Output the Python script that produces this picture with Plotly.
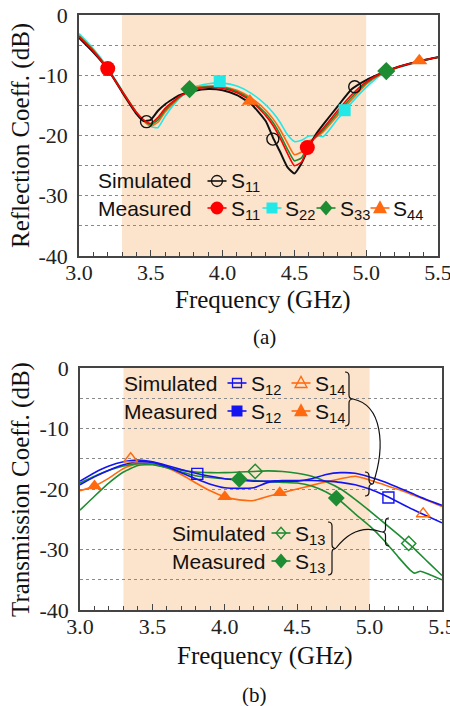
import plotly.graph_objects as go

# ---------------- (a) Reflection coefficients ----------------
f_top = [3.0, 3.1, 3.2, 3.3, 3.4, 3.45, 3.5, 3.55, 3.6, 3.7, 3.8, 3.9, 4.0, 4.1, 4.2, 4.3,
         4.35, 4.4, 4.45, 4.5, 4.55, 4.6, 4.65, 4.7, 4.8, 4.9, 5.0, 5.1, 5.2, 5.3, 5.4, 5.5]
sim_s11 = [-3.8, -6.2, -9.0, -12.8, -16.4, -17.6, -17.4, -15.9, -14.8, -13.3, -12.6, -12.3, -12.5, -13.3,
           -14.8, -17.6, -20.3, -22.7, -25.2, -26.3, -24.6, -22.0, -19.8, -18.2, -15.2, -12.3, -10.8,
           -9.7, -8.8, -8.1, -7.5, -7.0]
meas_s11 = [-3.6, -6.0, -9.0, -12.7, -16.2, -17.4, -18.0, -17.0, -15.5, -13.5, -12.4, -12.0, -12.2, -12.9,
            -14.3, -16.7, -18.3, -20.4, -22.9, -25.0, -24.4, -21.8, -20.1, -18.8, -15.9, -13.2, -11.1,
            -9.7, -8.8, -8.1, -7.5, -7.0]
meas_s22 = [-3.1, -5.6, -8.7, -12.5, -16.1, -17.5, -18.5, -18.7, -16.8, -13.8, -12.0, -11.4, -11.3, -11.8,
            -13.0, -14.9, -16.2, -17.8, -19.8, -21.0, -20.8, -20.1, -20.0, -20.2, -17.3, -14.5, -12.0,
            -10.0, -8.9, -8.2, -7.6, -7.0]
meas_s33 = [-3.5, -5.9, -8.9, -12.6, -16.2, -17.5, -18.2, -17.4, -15.8, -13.6, -12.2, -11.9, -12.0, -12.7,
            -14.1, -16.3, -17.8, -19.8, -22.2, -24.2, -23.7, -21.5, -20.2, -19.1, -16.3, -13.6, -11.3,
            -9.8, -8.8, -8.1, -7.5, -7.0]
meas_s44 = [-3.4, -5.8, -8.9, -12.6, -16.2, -17.6, -18.4, -17.8, -16.1, -13.7, -12.1, -11.8, -11.9, -12.5,
            -13.8, -15.8, -17.2, -19.0, -21.2, -23.2, -22.7, -21.0, -20.3, -19.4, -16.7, -14.0, -11.5,
            -9.9, -8.9, -8.1, -7.5, -7.0]

mk_sim_s11_f, mk_sim_s11 = [3.47, 4.35, 4.92], [-17.7, -20.6, -11.9]
mk_meas_s11_f, mk_meas_s11 = [3.2, 4.59], [-8.9, -22.0]
mk_meas_s22_f, mk_meas_s22 = [3.98, 4.85], [-11.0, -15.8]
mk_meas_s33_f, mk_meas_s33 = [3.77, 5.14], [-12.3, -9.3]
mk_meas_s44_f, mk_meas_s44 = [4.19, 5.37], [-14.3, -7.6]

# ---------------- (b) Transmission coefficients ----------------
f_bot = [3.0, 3.1, 3.2, 3.3, 3.4, 3.5, 3.6, 3.7, 3.8, 3.9, 4.0, 4.1, 4.2, 4.3, 4.4, 4.5, 4.6,
         4.7, 4.8, 4.9, 5.0, 5.1, 5.2, 5.3, 5.4, 5.5]
sim_s12 = [-18.7, -17.3, -16.2, -15.5, -15.2, -15.5, -16.1, -16.8, -17.4, -17.9, -18.3, -18.5, -18.7,
           -18.7, -18.6, -18.6, -18.6, -18.7, -18.9, -19.3, -20.0, -21.0, -22.2, -23.4, -24.5, -25.6]
meas_s12 = [-19.3, -18.0, -16.9, -16.0, -15.5, -15.6, -16.3, -17.3, -18.3, -19.2, -19.8, -19.9, -19.8,
            -18.9, -18.7, -18.7, -18.3, -17.6, -17.3, -17.4, -18.0, -18.8, -19.8, -20.8, -21.8, -22.7]
meas_s14 = [-20.3, -19.5, -18.2, -16.6, -15.8, -15.8, -16.5, -17.6, -19.0, -20.3, -21.3, -21.8, -21.9,
            -21.2, -20.6, -20.0, -19.4, -18.8, -18.3, -17.9, -18.5, -19.3, -20.1, -21.0, -21.9, -22.9]
sim_s13 = [-19.0, -17.9, -16.9, -16.2, -15.8, -15.9, -16.4, -16.9, -17.2, -17.3, -17.3, -17.2, -17.1,
           -17.0, -17.1, -17.4, -17.9, -18.8, -20.0, -21.7, -23.6, -25.6, -27.6, -29.7, -32.0, -34.3]
f_m13 = [3.0, 3.1, 3.2, 3.3, 3.4, 3.5, 3.6, 3.7, 3.8, 3.9, 4.0, 4.1, 4.2, 4.3, 4.4, 4.5, 4.6, 4.7,
         4.8, 4.9, 5.0, 5.1, 5.2, 5.28, 5.31, 5.35, 5.42, 5.5]
meas_s13 = [-23.5, -21.2, -19.0, -17.2, -16.1, -16.0, -16.5, -17.2, -17.8, -18.1, -18.3, -18.4, -18.6,
            -18.8, -18.9, -19.0, -19.5, -20.5, -22.0, -24.1, -26.1, -28.5, -31.3, -33.4, -33.9, -33.6,
            -34.2, -35.0]

mk_sim_s12_f, mk_sim_s12 = [3.81, 5.13], [-17.5, -21.4]
mk_sim_s14_f, mk_sim_s14 = [3.35, 5.37], [-15.0, -24.1]
mk_meas_s14_f, mk_meas_s14 = [3.1, 4.0, 4.38], [-19.5, -21.3, -20.6]
mk_sim_s13_f, mk_sim_s13 = [4.21, 5.27], [-17.1, -29.0]
mk_meas_s13_f, mk_meas_s13 = [4.1, 4.77], [-18.4, -21.5]

x_tick_vals = [3.0, 3.5, 4.0, 4.5, 5.0, 5.5]
x_tick_text = ["3.0", "3.5", "4.0", "4.5", "5.0", "5.5"]
y_tick_vals = [0, -10, -20, -30, -40]
y_tick_text = ["0", "-10", "-20", "-30", "-40"]
band = [3.3, 5.0]

# ---------------- styling ----------------
W, H = 450, 706
BLACK, RED, CYAN, GREEN, ORANGE, BLUE = "#111111", "#FF0000", "#22E8E8", "#1E8C32", "#FF6A10", "#1414F0"
SANS = "Liberation Sans"
SERIF = "Liberation Serif"


def P(px, py):
    return px / W, 1 - py / H


fig = go.Figure()


def line(x, y, color, xa, ya, width=1.6):
    fig.add_trace(go.Scatter(x=x, y=y, mode="lines",
                             line=dict(color=color, width=width, shape="spline", smoothing=0.5),
                             xaxis=xa, yaxis=ya, showlegend=False, hoverinfo="skip"))


def marks(x, y, color, symbol, size, xa, ya):
    fig.add_trace(go.Scatter(x=x, y=y, mode="markers",
                             marker=dict(symbol=symbol, size=size, color=color,
                                         line=dict(color=color, width=1.4 if symbol.endswith("open") else 0)),
                             xaxis=xa, yaxis=ya, showlegend=False, hoverinfo="skip"))


# (a)
line(f_top, meas_s22, CYAN, "x", "y")
line(f_top, meas_s44, ORANGE, "x", "y")
line(f_top, meas_s33, GREEN, "x", "y")
line(f_top, sim_s11, BLACK, "x", "y", 2.0)
line(f_top, meas_s11, RED, "x", "y")
marks(mk_sim_s11_f, mk_sim_s11, BLACK, "circle-open", 12, "x", "y")
marks(mk_meas_s11_f, mk_meas_s11, RED, "circle", 15, "x", "y")
marks(mk_meas_s22_f, mk_meas_s22, CYAN, "square", 12, "x", "y")
marks(mk_meas_s33_f, mk_meas_s33, GREEN, "diamond", 14, "x", "y")
marks(mk_meas_s44_f, mk_meas_s44, ORANGE, "triangle-up", 14, "x", "y")

# (b)
line(f_bot, meas_s14, ORANGE, "x2", "y2")
line(f_bot, sim_s13, GREEN, "x2", "y2")
line(f_m13, meas_s13, GREEN, "x2", "y2")
line(f_bot, meas_s12, BLUE, "x2", "y2")
line(f_bot, sim_s12, BLUE, "x2", "y2")
marks(mk_sim_s12_f, mk_sim_s12, BLUE, "square-open", 11, "x2", "y2")
marks(mk_sim_s14_f, mk_sim_s14, ORANGE, "triangle-up-open", 12, "x2", "y2")
marks(mk_meas_s14_f, mk_meas_s14, ORANGE, "triangle-up", 13, "x2", "y2")
marks(mk_sim_s13_f, mk_sim_s13, GREEN, "diamond-open", 11, "x2", "y2")
marks(mk_meas_s13_f, mk_meas_s13, GREEN, "diamond", 13, "x2", "y2")

axis_x = dict(range=[3.0, 5.5], tickmode="array", tickvals=x_tick_vals, ticktext=x_tick_text,
              ticks="inside", ticklen=6, tickwidth=1, tickcolor="#444",
              minor=dict(tickmode="linear", tick0=3.0, dtick=0.1, ticks="inside", ticklen=4,
                         tickcolor="#444", showgrid=False),
              showline=True, linecolor="#444", linewidth=1.5, mirror=True, showgrid=False, zeroline=False,
              tickfont=dict(family=SERIF, size=22, color="#222"), automargin=False,
              ticklabelstandoff=-4, ticklabeloverflow="allow")
axis_y = dict(range=[-40, 0], tickmode="array", tickvals=y_tick_vals, ticktext=y_tick_text, ticks="",
              showline=True, linecolor="#444", linewidth=1.5, mirror=True,
              showgrid=True, griddash="dot", gridcolor="#8a8a8a", gridwidth=1,
              minor=dict(tickmode="linear", tick0=0, dtick=5, showgrid=True, griddash="dot",
                         gridcolor="#8a8a8a", gridwidth=1, ticks=""),
              zeroline=False, tickfont=dict(family=SERIF, size=22, color="#222"), automargin=False,
              ticklabelstandoff=5, ticklabeloverflow="allow")

fig.update_layout(
    width=W, height=H, margin=dict(l=0, r=0, t=0, b=0), paper_bgcolor="white", plot_bgcolor="white",
    xaxis=dict(axis_x, domain=[79 / W, 438 / W], anchor="y"),
    yaxis=dict(axis_y, domain=[1 - 256 / H, 1 - 15 / H], anchor="x"),
    xaxis2=dict(axis_x, domain=[80 / W, 442 / W], anchor="y2"),
    yaxis2=dict(axis_y, domain=[1 - 610 / H, 1 - 368 / H], anchor="x2"),
    showlegend=False,
)

# shaded band
for xr, yr in (("x", "y domain"), ("x2", "y2 domain")):
    fig.add_shape(type="rect", xref=xr, yref=yr, x0=band[0], x1=band[1], y0=0, y1=1,
                  fillcolor="#FCE3CB", line_width=0, layer="below")


def text(t, px, py, fam=SANS, sz=21, ang=0, xanchor="left"):
    x, y = P(px, py)
    fig.add_annotation(text=t, x=x, y=y, xref="paper", yref="paper", showarrow=False, textangle=ang,
                       xanchor=xanchor, yanchor="middle", font=dict(family=fam, size=sz, color="#111"))


# axis titles and panel labels
text("Reflection Coeff. (dB)", 21, 136, SERIF, 25, -90, "center")
text("Frequency (GHz)", 263, 300, SERIF, 25, 0, "center")
text("(a)", 264, 337, SERIF, 21, 0, "center")
text("Transmission Coeff. (dB)", 21, 490, SERIF, 25, -90, "center")
text("Frequency (GHz)", 265, 656, SERIF, 25, 0, "center")
text("(b)", 254, 695, SERIF, 21, 0, "center")


# ---------------- legend keys (line + symbol) ----------------
def pstr(pts, close=True):
    s = []
    for i, (x, y) in enumerate(pts):
        X, Y = P(x, y)
        s.append(("M" if i == 0 else "L") + f"{X:.5f},{Y:.5f}")
    return " ".join(s) + (" Z" if close else "")


def key(cx, cy, color, kind, filled, r, half=9.5):
    x0, y0 = P(cx - half, cy)
    x1, _ = P(cx + half, cy)
    fig.add_shape(type="line", xref="paper", yref="paper", x0=x0, x1=x1, y0=y0, y1=y0,
                  line=dict(color=color, width=1.6))
    style = dict(fillcolor=color if filled else "rgba(0,0,0,0)",
                 line=dict(color=color, width=0 if filled else 1.3))
    if kind in ("circle", "square"):
        a0, b0 = P(cx - r, cy + r)
        a1, b1 = P(cx + r, cy - r)
        fig.add_shape(type="circle" if kind == "circle" else "rect", xref="paper", yref="paper",
                      x0=a0, x1=a1, y0=b0, y1=b1, **style)
    elif kind == "diamond":
        fig.add_shape(type="path", xref="paper", yref="paper",
                      path=pstr([(cx, cy - r * 1.15), (cx + r, cy), (cx, cy + r * 1.15), (cx - r, cy)]), **style)
    else:
        fig.add_shape(type="path", xref="paper", yref="paper",
                      path=pstr([(cx, cy - r * 1.1), (cx + r, cy + r * 0.75), (cx - r, cy + r * 0.75)]), **style)


# (a) legend
text("Simulated", 96, 180)
key(217, 181, BLACK, "circle", False, 5.5)
text("S<sub>11</sub>", 229, 182)
text("Measured", 96, 208)
key(217, 208, RED, "circle", True, 6.5)
text("S<sub>11</sub>", 229, 210)
key(272, 208, CYAN, "square", True, 5.5)
text("S<sub>22</sub>", 283, 210)
key(326, 208, GREEN, "diamond", True, 6.5)
text("S<sub>33</sub>", 338, 210)
key(380, 208, ORANGE, "triangle", True, 7)
text("S<sub>44</sub>", 391, 210)

# (b) legend, upper group
text("Simulated", 122, 383)
key(237, 383, BLUE, "square", False, 4.5)
text("S<sub>12</sub>", 249, 385)
key(301, 383, ORANGE, "triangle", False, 6)
text("S<sub>14</sub>", 313, 385)
text("Measured", 122, 411)
key(237, 411, BLUE, "square", True, 5.5)
text("S<sub>12</sub>", 249, 413)
key(301, 411, ORANGE, "triangle", True, 7)
text("S<sub>14</sub>", 313, 413)

# (b) legend, lower group
text("Simulated", 170, 533)
key(281, 533, GREEN, "diamond", False, 5)
text("S<sub>13</sub>", 293, 535)
text("Measured", 170, 561)
key(281, 561, GREEN, "diamond", True, 6.5)
text("S<sub>13</sub>", 293, 563)


# braces and connectors (paper coords from pixel coords)
def path_px(cmds):
    out = []
    for c in cmds:
        if isinstance(c, str):
            out.append(c)
        else:
            x, y = P(*c)
            out.append(f"{x:.5f},{y:.5f}")
    return " ".join(out)


def brace(x, y0, y1, w):
    ym = (y0 + y1) / 2
    h = w / 2
    a = abs(h)
    return path_px(["M", (x, y0), "Q", (x + h, y0), (x + h, y0 + a), "L", (x + h, ym - a),
                    "Q", (x + h, ym), (x + w, ym), "Q", (x + h, ym), (x + h, ym + a),
                    "L", (x + h, y1 - a), "Q", (x + h, y1), (x, y1)])


paths = [
    brace(345, 372, 426, 8),
    path_px(["M", (353, 399), "C", (382, 405), (386, 445), (373, 484)]),
    brace(365, 472, 496, 8),
    brace(328, 522, 575, 8),
    path_px(["M", (336, 548), "C", (350, 530), (366, 526), (382, 532)]),
    brace(389, 518, 546, -7),
]
for pth in paths:
    fig.add_shape(type="path", path=pth, xref="paper", yref="paper", line=dict(color="#111", width=1.2))

fig.write_html("out.html")
